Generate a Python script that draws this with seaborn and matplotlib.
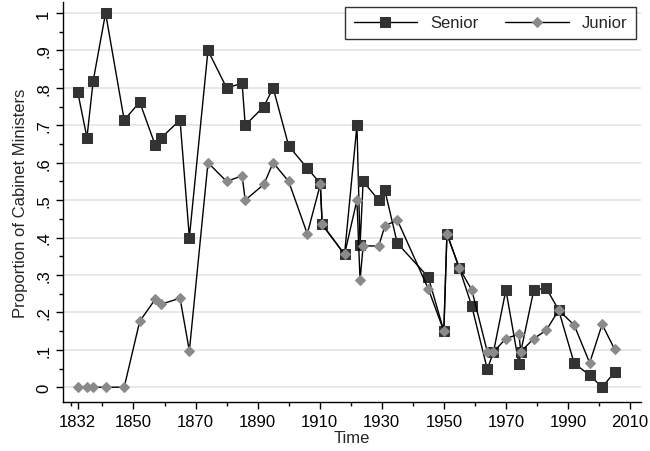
import numpy as np
import pandas as pd
import matplotlib
matplotlib.use("Agg")
import matplotlib.pyplot as plt
import seaborn as sns

# election years (two elections in 1910 and 1974)
years = [1832, 1835, 1837, 1841, 1847, 1852, 1857, 1859, 1865, 1868,
         1874, 1880, 1885, 1886, 1892, 1895, 1900, 1906, 1910.2, 1910.8,
         1918, 1922, 1923, 1924, 1929, 1931, 1935, 1945, 1950, 1951,
         1955, 1959, 1964, 1966, 1970, 1974.2, 1974.8, 1979, 1983, 1987,
         1992, 1997, 2001, 2005]

senior = [0.79, 0.667, 0.818, 1.0, 0.714, 0.762, 0.647, 0.667, 0.714, 0.40,
          0.90, 0.80, 0.812, 0.70, 0.75, 0.80, 0.645, 0.585, 0.545, 0.435,
          0.355, 0.70, 0.38, 0.55, 0.50, 0.526, 0.385, 0.294, 0.15, 0.41,
          0.318, 0.217, 0.048, 0.094, 0.26, 0.062, 0.095, 0.26, 0.265, 0.206,
          0.064, 0.032, 0.0, 0.04]

junior = [0, 0, 0, 0, 0, 0.176, 0.235, 0.222, 0.238, 0.097,
          0.60, 0.55, 0.565, 0.50, 0.542, 0.60, 0.55, 0.41, 0.542, 0.435,
          0.355, 0.50, 0.286, 0.378, 0.377, 0.431, 0.447, 0.263, 0.15, 0.41,
          0.318, 0.26, 0.095, 0.094, 0.13, 0.142, 0.095, 0.13, 0.152, 0.206,
          0.166, 0.065, 0.168, 0.102]

xticks = [1832, 1850, 1870, 1890, 1910, 1930, 1950, 1970, 1990, 2010]
xminor = [1830, 1840, 1860, 1880, 1900, 1920, 1940, 1960, 1980, 2000]
yticks = [0, 0.1, 0.2, 0.3, 0.4, 0.5, 0.6, 0.7, 0.8, 0.9, 1.0]
ytick_labels = ["0", ".1", ".2", ".3", ".4", ".5", ".6", ".7", ".8", ".9", "1"]

df = pd.DataFrame({"Time": years, "Senior": senior, "Junior": junior})

sns.set_style("white")
plt.rcParams["font.family"] = ["Liberation Sans", "DejaVu Sans"]

fig, ax = plt.subplots(figsize=(6.5, 4.52), dpi=100)
fig.subplots_adjust(left=0.097, right=0.986, bottom=0.108, top=0.993)

# gridlines behind everything
for y in yticks:
    ax.axhline(y, color="#e6e6e6", lw=1.3, zorder=0)

sns.lineplot(data=df, x="Time", y="Senior", ax=ax, estimator=None,
             color="black", lw=1.0, marker="s", markersize=7.5,
             markerfacecolor="#333333", markeredgecolor="#333333",
             label="Senior", zorder=3)
sns.lineplot(data=df, x="Time", y="Junior", ax=ax, estimator=None,
             color="black", lw=1.0, marker="D", markersize=5,
             markerfacecolor="#8a8a8a", markeredgecolor="#8a8a8a",
             label="Junior", zorder=4)

ax.set_xlim(1827.3, 2013.5)
ax.set_ylim(-0.04, 1.029)
ax.set_xticks(xticks)
ax.set_xticks(xminor, minor=True)
ax.set_yticks(yticks)
ax.set_yticklabels(ytick_labels, rotation=90, va="center")
ax.set_yticks(np.arange(0.05, 1.0, 0.1), minor=True)

ax.tick_params(axis="both", which="major", direction="out", length=5,
               width=1, color="black", labelsize=12, labelcolor="black",
               bottom=True, left=True)
ax.tick_params(axis="both", which="minor", direction="out", length=3,
               width=1, color="black", bottom=True, left=True)

sns.despine(ax=ax)
for s in ["left", "bottom"]:
    ax.spines[s].set_color("black")
    ax.spines[s].set_linewidth(1.0)

ax.set_xlabel("Time", fontsize=12, labelpad=1)
ax.set_ylabel("Proportion of Cabinet Ministers", fontsize=12, labelpad=6)

leg = ax.legend(loc="upper right", ncol=2, frameon=True, fancybox=False,
                fontsize=12, handlelength=3.8, columnspacing=1.6,
                borderaxespad=0.3, borderpad=0.5)
leg.get_frame().set_edgecolor("black")
leg.get_frame().set_linewidth(1.0)

plt.savefig("out.png", dpi=100)
